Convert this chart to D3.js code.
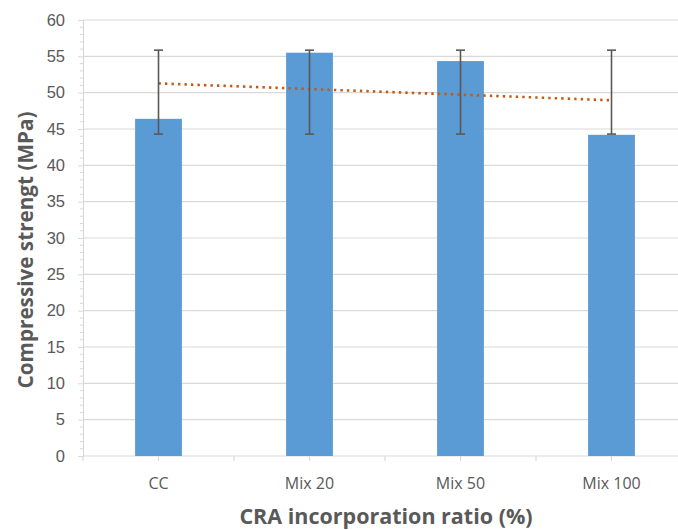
<!DOCTYPE html>
<html>
<head>
<meta charset="utf-8">
<script src="https://cdn.jsdelivr.net/npm/d3@7"></script>
<style>
  body { margin: 0; background: #fff; }
  svg { display: block; font-family: "Open Sans", sans-serif; }
</style>
</head>
<body>
<svg id="chart" width="678" height="530"></svg>
<script>
// data
let categories = ['CC', 'Mix 20', 'Mix 50', 'Mix 100'];
let strength = [46.4, 55.5, 54.35, 44.2];
let errLow = [44.3, 44.3, 44.3, 44.3];
let errHigh = [55.85, 55.85, 55.85, 55.85];
let yTicks = [0, 5, 10, 15, 20, 25, 30, 35, 40, 45, 50, 55, 60];

let margin = {top: 20, left: 83};
let plotBottom = 456;
let plotRight = 687; // chart is cropped on the right in the reference

let svg = d3.select('#chart');

let xScale = d3.scaleBand()
    .domain(categories)
    .range([margin.left, plotRight])
    .paddingInner(0.69)
    .paddingOuter(0.345);

let yScale = d3.scaleLinear()
    .domain([0, 60])
    .range([plotBottom, margin.top]);

let center = d => xScale(d) + xScale.bandwidth() / 2;

// gridlines
svg.append('g')
    .selectAll('line')
    .data(yTicks.filter(t => t > 0))
    .enter().append('line')
    .attr('x1', margin.left)
    .attr('x2', plotRight)
    .attr('y1', d => yScale(d))
    .attr('y2', d => yScale(d))
    .attr('stroke', '#d9d9d9')
    .attr('stroke-width', 1.2);

// y axis with minor ticks
let yAxis = d3.axisLeft(yScale)
    .tickValues(yTicks)
    .tickSize(5)
    .tickPadding(13);
let gy = svg.append('g')
    .attr('transform', 'translate(' + margin.left + ',0)')
    .call(yAxis);
gy.select('.domain').attr('stroke', '#d9d9d9').attr('stroke-width', 1.2);
gy.selectAll('.tick line').attr('stroke', '#d9d9d9');
gy.selectAll('.tick text')
    .attr('fill', '#595959')
    .style('font-size', '16.5px');

gy.append('g')
    .selectAll('line')
    .data(d3.range(0, 61).filter(v => v % 5 !== 0))
    .enter().append('line')
    .attr('x1', -3)
    .attr('x2', 0)
    .attr('y1', d => yScale(d))
    .attr('y2', d => yScale(d))
    .attr('stroke', '#d9d9d9');

// x axis: ticks at category centres and between categories
let gx = svg.append('g');
gx.append('line')
    .attr('x1', margin.left)
    .attr('x2', plotRight)
    .attr('y1', plotBottom)
    .attr('y2', plotBottom)
    .attr('stroke', '#d9d9d9')
    .attr('stroke-width', 1.2);

let tickXs = categories.map(center)
    .concat(categories.map(d => xScale(d) - xScale.step() * xScale.paddingInner() / 2));
gx.selectAll('.xtick')
    .data(tickXs)
    .enter().append('line')
    .attr('class', 'xtick')
    .attr('x1', d => d)
    .attr('x2', d => d)
    .attr('y1', plotBottom)
    .attr('y2', plotBottom + 5)
    .attr('stroke', '#d9d9d9')
    .attr('stroke-width', 1.2);

gx.selectAll('.xlabel')
    .data(categories)
    .enter().append('text')
    .attr('class', 'xlabel')
    .attr('x', d => center(d))
    .attr('y', 489)
    .attr('text-anchor', 'middle')
    .attr('fill', '#595959')
    .style('font-size', '16px')
    .text(d => d);

// bars
svg.append('g')
    .selectAll('rect')
    .data(categories)
    .enter().append('rect')
    .attr('x', d => xScale(d))
    .attr('y', (d, i) => yScale(strength[i]))
    .attr('width', xScale.bandwidth())
    .attr('height', (d, i) => plotBottom - yScale(strength[i]))
    .attr('fill', '#5b9bd5');

// linear trendline (least squares over the bar values)
let xs = categories.map((d, i) => i);
let xMean = d3.mean(xs);
let yMean = d3.mean(strength);
let slope = d3.sum(xs, (x, i) => (x - xMean) * (strength[i] - yMean)) /
    d3.sum(xs, x => (x - xMean) * (x - xMean));
let intercept = yMean - slope * xMean;

let trendLine = d3.line()
    .x(d => center(categories[d]))
    .y(d => yScale(intercept + slope * d));

svg.append('path')
    .attr('d', trendLine([0, xs.length - 1]))
    .attr('fill', 'none')
    .attr('stroke', '#c55a11')
    .attr('stroke-width', 2.6)
    .attr('stroke-dasharray', '2.4,4.1');

// error bars
let err = svg.append('g')
    .attr('stroke', '#595959')
    .attr('stroke-width', 1.6);
categories.forEach(function (d, i) {
    let cx = center(d);
    err.append('line')
        .attr('x1', cx).attr('x2', cx)
        .attr('y1', yScale(errLow[i])).attr('y2', yScale(errHigh[i]));
    [errLow[i], errHigh[i]].forEach(function (v) {
        err.append('line')
            .attr('x1', cx - 4.5).attr('x2', cx + 4.5)
            .attr('y1', yScale(v)).attr('y2', yScale(v));
    });
});

// axis titles
svg.append('text')
    .attr('transform', 'translate(33,250) rotate(-90)')
    .attr('text-anchor', 'middle')
    .attr('fill', '#595959')
    .style('font-size', '20.7px')
    .style('font-weight', 'bold')
    .text('Compressive strengt (MPa)');

svg.append('text')
    .attr('x', 386)
    .attr('y', 524)
    .attr('text-anchor', 'middle')
    .attr('fill', '#595959')
    .style('font-size', '21.5px')
    .style('font-weight', 'bold')
    .text('CRA incorporation ratio (%)');
</script>
</body>
</html>
